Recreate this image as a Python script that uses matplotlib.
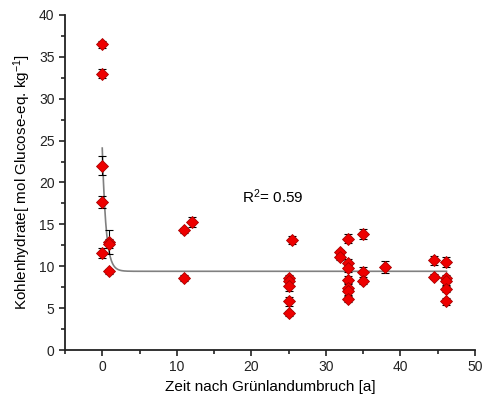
import numpy as np
import matplotlib
matplotlib.use("Agg")
import matplotlib.pyplot as plt
from matplotlib.ticker import MultipleLocator

plt.rcParams['font.family'] = ['Liberation Sans', 'DejaVu Sans']
plt.rcParams['mathtext.default'] = 'regular'

# Messwerte: Zeit [a], Kohlenhydrate, Fehler
zeit = [0, 0, 0, 0, 0,
        0.95, 0.95, 0.95,
        11, 11, 12,
        25, 25, 25, 25, 25, 25.4,
        31.9, 31.9,
        33, 33, 33, 33, 33, 33, 33,
        35, 35, 35,
        38,
        44.5, 44.5,
        46.1, 46.1, 46.1, 46.1, 46.1]
kh = [36.5, 33.0, 22.0, 17.7, 11.6,
      12.9, 12.7, 9.4,
      14.3, 8.6, 15.3,
      8.6, 8.2, 7.7, 5.8, 4.4, 13.1,
      11.7, 11.1,
      13.3, 10.4, 9.75, 8.4, 7.4, 7.0, 6.1,
      13.85, 9.3, 8.2,
      9.9,
      10.7, 8.75,
      10.55, 8.6, 8.2, 7.3, 5.8]
fehler = [0.4, 0.5, 1.1, 0.7, 0.6,
          1.4, 0.5, 0.3,
          0.3, 0.3, 0.6,
          0.4, 0.4, 0.6, 0.5, 0.3, 0.5,
          0.3, 0.3,
          0.5, 0.5, 0.4, 0.4, 0.5, 0.4, 0.4,
          0.6, 0.6, 0.3,
          0.7,
          0.5, 0.3,
          0.6, 0.4, 0.4, 0.4, 0.4]

# exponentieller Fit
y0, amp, tau = 9.4, 14.7, 0.5
r2_text = "R$^2$= 0.59"

fig = plt.figure(figsize=(4.85, 4.01), dpi=100)
ax = fig.add_axes([0.134, 0.127, 0.845, 0.836])

xf = np.linspace(0, 46.2, 600)
ax.plot(xf, y0 + amp * np.exp(-xf / tau), color='#808080', lw=1.2, zorder=1)

ax.errorbar(zeit, kh, yerr=fehler, fmt='none', ecolor='black', elinewidth=0.8,
            capsize=3, capthick=0.8, zorder=2)
ax.plot(zeit, kh, 'D', color='#ee0000', markeredgecolor='#aa0000',
        markersize=6.3, markeredgewidth=0.6, zorder=3)

ax.text(18.8, 17.5, r2_text, fontsize=11)

ax.set_xlim(-5, 50)
ax.set_ylim(0, 40)
ax.xaxis.set_major_locator(MultipleLocator(10))
ax.xaxis.set_minor_locator(MultipleLocator(5))
ax.yaxis.set_major_locator(MultipleLocator(5))
ax.yaxis.set_minor_locator(MultipleLocator(2.5))
ax.spines['top'].set_visible(False)
ax.spines['right'].set_visible(False)
for s in ('left', 'bottom'):
    ax.spines[s].set_linewidth(1.3)
    ax.spines[s].set_color('#222222')
ax.tick_params(which='major', direction='out', length=4, width=1.2, labelsize=10,
               colors='#222222')
ax.tick_params(which='minor', direction='out', length=3, width=1.2, colors='#222222')

ax.set_xlabel("Zeit nach Grünlandumbruch [a]", fontsize=11)
ax.set_ylabel("Kohlenhydrate[ mol Glucose-eq. kg$^{-1}$]", fontsize=11)

fig.savefig("out.png", dpi=100)
